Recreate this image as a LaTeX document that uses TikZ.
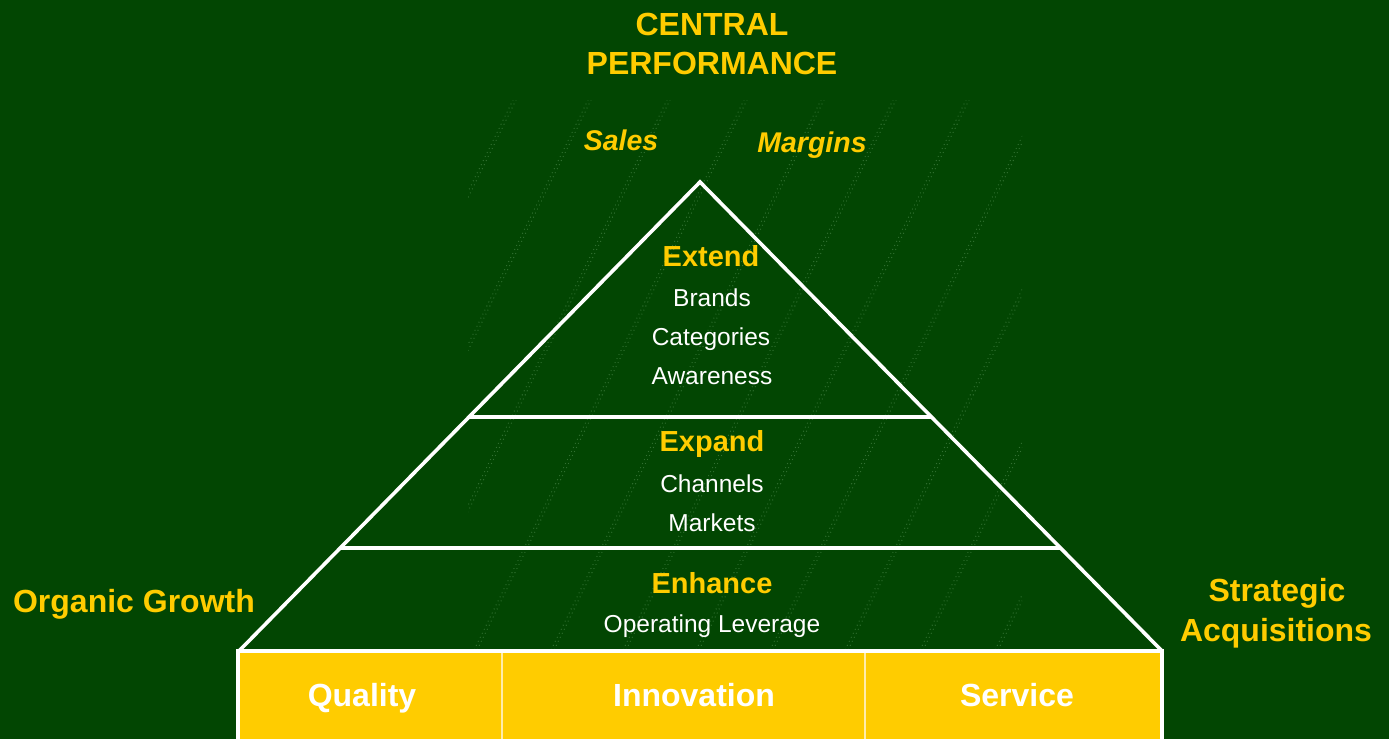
\documentclass[tikz,border=0pt]{standalone}
\usepackage{fontspec}
\setmainfont{Liberation Sans}
\usetikzlibrary{calc}
\definecolor{bggreen}{RGB}{2,70,2}
\definecolor{gold}{RGB}{255,204,0}
\definecolor{paleline}{RGB}{255,236,170}
\definecolor{speckle}{RGB}{90,150,90}
\newcommand{\fs}[1]{\fontsize{#1}{#1}\selectfont}
\begin{document}
\begin{tikzpicture}[x=1pt,y=-1pt,
  every node/.style={inner sep=0pt,anchor=base},
  headline/.style={text=gold,font=\bfseries\fs{32}},
  corner/.style={text=gold,font=\bfseries\itshape\fs{28.5}},
  tiertitle/.style={text=gold,font=\bfseries\fs{29}},
  tieritem/.style={text=white,font=\fs{24.5}},
  sidelabel/.style={text=gold,font=\bfseries\fs{32}},
  pillar/.style={text=white,font=\bfseries\fs{32}},
  outline/.style={draw=white,line width=3.6pt,line join=miter},
  divider/.style={draw=white,line width=3.6pt},
  thin/.style={draw=paleline,line width=1.2pt},
  streak/.style={draw=speckle,opacity=0.55,line width=1.3pt,line cap=round,
                 dash pattern=on 0pt off 4.5pt}
]
% canvas
\fill[bggreen] (0,0) rectangle (1389,739);
\useasboundingbox (0,0) rectangle (1389,739);

% faint speckled diagonal streaks behind the pyramid
\begin{scope}
  \clip (468,100) rectangle (1022,650);
  \foreach \t in {513,588,667,744,821,893,966,1040,1115,1190,1265}{
    \draw[streak] (\t,100) -- ++(-270,550);
    \draw[streak] (\t+3,100) -- ++(-270,550);
  }
\end{scope}

% base bar with three pillars
\fill[gold] (238,651) rectangle (1162,739);
\coordinate (barTL) at (238,651);
\coordinate (barTR) at (1162,651);
\coordinate (barBL) at (238,739);
\coordinate (barBR) at (1162,739);
\coordinate (d1t) at (502,651);
\coordinate (d1b) at (502,739);
\coordinate (d2t) at (865,651);
\coordinate (d2b) at (865,739);
\draw[thin] (d1t) -- (d1b);
\draw[thin] (d2t) -- (d2b);
\draw[draw=white,line width=3.2pt] (barBL) -- (barTL) -- (barTR) -- (barBR);

% pyramid
\coordinate (apex) at (700,182);
\coordinate (pyrL) at (239,651);
\coordinate (pyrR) at (1162,651);
\draw[outline] (pyrL) -- (apex) -- (pyrR);
\coordinate (l1L) at ($(apex)!0.501!(pyrL)$);
\coordinate (l1R) at ($(apex)!0.501!(pyrR)$);
\coordinate (l2L) at ($(apex)!0.780!(pyrL)$);
\coordinate (l2R) at ($(apex)!0.780!(pyrR)$);
\draw[divider] (l1L) -- (l1R);
\draw[divider] (l2L) -- (l2R);

% headings
\node[headline] (central) at (712,35) {CENTRAL};
\node[headline] (performance) at (712,74) {PERFORMANCE};
\node[corner] (sales) at (621,150) {Sales};
\node[corner] (margins) at (812,152) {Margins};

% tier: extend
\node[tiertitle] (extend) at (711,266) {Extend};
\node[tieritem] (brands) at (712,306) {Brands};
\node[tieritem] (categories) at (711,345.5) {Categories};
\node[tieritem] (awareness) at (712,384) {Awareness};

% tier: expand
\node[tiertitle] (expand) at (712,451.5) {Expand};
\node[tieritem] (channels) at (712,492.5) {Channels};
\node[tieritem] (markets) at (712,531) {Markets};

% tier: enhance
\node[tiertitle] (enhance) at (712,593) {Enhance};
\node[tieritem] (operating) at (712,632) {Operating Leverage};

% sides
\node[sidelabel] (organic) at (134,612.5) {Organic Growth};
\node[sidelabel] (strategic) at (1277,601) {Strategic};
\node[sidelabel] (acquisitions) at (1276,641) {Acquisitions};

% pillars
\node[pillar] (quality) at (362,706) {Quality};
\node[pillar] (innovation) at (694,706) {Innovation};
\node[pillar] (service) at (1017,706) {Service};
\end{tikzpicture}
\end{document}
